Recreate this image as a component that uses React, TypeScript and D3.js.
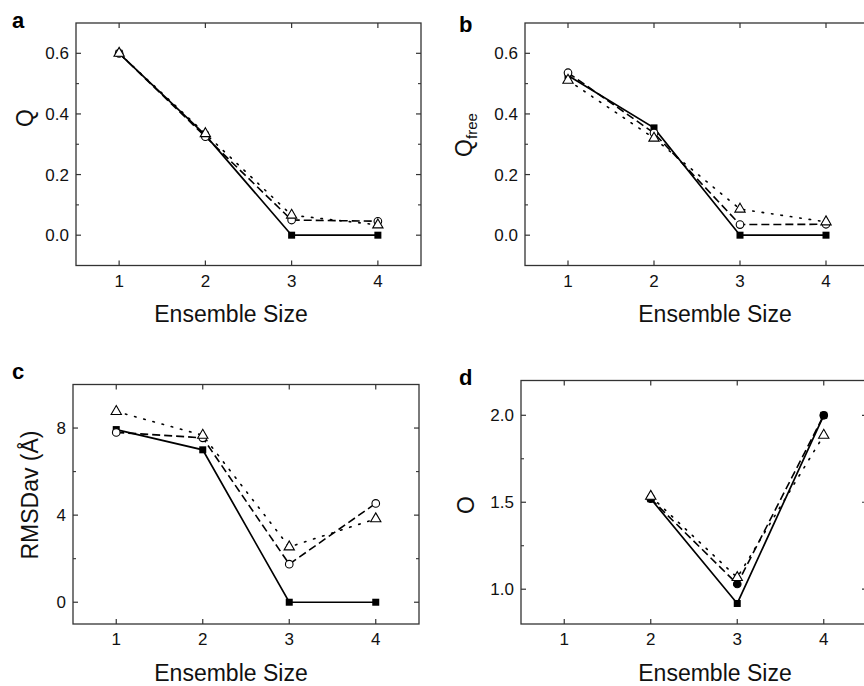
import React from 'react';
import * as d3 from 'd3';

const ensembleSizes = [1, 2, 3, 4];
const ensembleSizesD = [2, 3, 4];

// panel a: Q
const qSquares = [0.6, 0.33, 0.0, 0.0];
const qCircles = [0.6, 0.325, 0.05, 0.046];
const qTriangles = [0.6, 0.335, 0.066, 0.034];

// panel b: Q free
const qfreeSquares = [0.527, 0.354, 0.0, 0.0];
const qfreeCircles = [0.536, 0.337, 0.035, 0.036];
const qfreeTriangles = [0.511, 0.32, 0.086, 0.044];

// panel c: RMSDav
const rmsdSquares = [7.93, 7.0, 0.0, 0.0];
const rmsdCircles = [7.8, 7.55, 1.75, 4.54];
const rmsdTriangles = [8.76, 7.67, 2.54, 3.83];

// panel d: O
const oSquares = [1.52, 0.918, 2.0];
const oCircles = [1.52, 1.03, 2.0];
const oTriangles = [1.534, 1.067, 1.885];

const xTicks = [1, 2, 3, 4];
const qTicks = [0.0, 0.2, 0.4, 0.6];
const qMinor = [0.1, 0.3, 0.5];
const rmsdTicks = [0, 4, 8];
const rmsdMinor = [2, 6];
const oTicks = [1.0, 1.5, 2.0];
const oMinor = [1.25, 1.75];

const FONT = "'Liberation Sans', Arial, sans-serif";

type Series = { xs: number[]; ys: number[]; dash: string; marker: 'square' | 'circle' | 'triangle'; fill: string };

function Marker({ type, x, y, fill }: { type: string; x: number; y: number; fill: string }) {
  if (type === 'square') {
    return <rect x={x - 3.5} y={y - 3.5} width={7} height={7} fill="#000" />;
  }
  if (type === 'circle') {
    return <circle cx={x} cy={y} r={3.8} fill={fill} stroke="#000" strokeWidth={1.1} />;
  }
  const p = d3.symbol().type(d3.symbolTriangle).size(46)();
  return <path d={p || ''} transform={`translate(${x},${y})`} fill="#fff" stroke="#000" strokeWidth={1.1} />;
}

function Panel(props: {
  frame: [number, number, number, number];
  yDomain: [number, number];
  yTicks: number[];
  yMinor: number[];
  fmt: (v: number) => string;
  series: Series[];
  letter: string;
  letterPos: [number, number];
  yLabel: React.ReactNode;
  yLabelPos: [number, number];
  xLabelPos: [number, number];
}) {
  const [x0, x1, y0, y1] = props.frame;
  const x = d3.scaleLinear().domain([0.5, 4.5]).range([x0, x1]);
  const y = d3.scaleLinear().domain(props.yDomain).range([y1, y0]);
  const line = d3.line<[number, number]>().x((d) => x(d[0])).y((d) => y(d[1]));
  const ax = '#333';

  return (
    <g>
      <text x={props.letterPos[0]} y={props.letterPos[1]} fontFamily={FONT} fontWeight="bold" fontSize={22}>
        {props.letter}
      </text>
      <rect x={x0} y={y0} width={x1 - x0} height={y1 - y0} fill="none" stroke={ax} strokeWidth={1.3} />
      {xTicks.map((t) => (
        <g key={'x' + t}>
          <line x1={x(t)} x2={x(t)} y1={y1} y2={y1 - 5} stroke={ax} strokeWidth={1.2} />
          <line x1={x(t)} x2={x(t)} y1={y0} y2={y0 + 5} stroke={ax} strokeWidth={1.2} />
          <text x={x(t)} y={y1 + 21} textAnchor="middle" fontFamily={FONT} fontSize={17} fill="#111">
            {t}
          </text>
        </g>
      ))}
      {props.yTicks.map((t) => (
        <g key={'y' + t}>
          <line x1={x0} x2={x0 + 5} y1={y(t)} y2={y(t)} stroke={ax} strokeWidth={1.2} />
          <line x1={x1} x2={x1 - 5} y1={y(t)} y2={y(t)} stroke={ax} strokeWidth={1.2} />
          <text x={x0 - 7} y={y(t)} dy="0.36em" textAnchor="end" fontFamily={FONT} fontSize={17} fill="#111">
            {props.fmt(t)}
          </text>
        </g>
      ))}
      {props.yMinor.map((t) => (
        <g key={'m' + t}>
          <line x1={x0} x2={x0 + 3} y1={y(t)} y2={y(t)} stroke={ax} strokeWidth={1.1} />
          <line x1={x1} x2={x1 - 3} y1={y(t)} y2={y(t)} stroke={ax} strokeWidth={1.1} />
        </g>
      ))}
      {props.series.map((s, i) => (
        <path
          key={'l' + i}
          d={line(s.xs.map((v, j) => [v, s.ys[j]] as [number, number])) || ''}
          fill="none"
          stroke="#000"
          strokeWidth={s.dash === '' ? 1.7 : 1.6}
          strokeDasharray={s.dash || undefined}
          strokeLinecap={s.dash === '1.5,8' ? 'round' : 'butt'}
        />
      ))}
      {props.series.map((s, i) =>
        s.xs.map((v, j) => <Marker key={'p' + i + '-' + j} type={s.marker} x={x(v)} y={y(s.ys[j])} fill={s.fill} />)
      )}
      <text
        transform={`translate(${props.yLabelPos[0]},${props.yLabelPos[1]}) rotate(-90)`}
        textAnchor="middle"
        dy="0.36em"
        fontFamily={FONT}
        fontSize={23}
        fill="#111"
      >
        {props.yLabel}
      </text>
      <text x={props.xLabelPos[0]} y={props.xLabelPos[1]} textAnchor="middle" fontFamily={FONT} fontSize={23} fill="#111">
        Ensemble Size
      </text>
    </g>
  );
}

const f1 = d3.format('.1f');
const f0 = d3.format('d');

export default function App() {
  const mk = (xs: number[], sq: number[], ci: number[], tr: number[], circleFill: string): Series[] => [
    { xs, ys: sq, dash: '', marker: 'square', fill: '#000' },
    { xs, ys: ci, dash: '8,4', marker: 'circle', fill: circleFill },
    { xs, ys: tr, dash: '1.5,8', marker: 'triangle', fill: '#fff' },
  ];
  return (
    <svg width={864} height={686} style={{ position: 'absolute', left: 0, top: 0, background: '#fff' }}>
      <rect width={864} height={686} fill="#fff" />
      <Panel
        frame={[76, 421, 23, 265.5]}
        yDomain={[-0.1, 0.7]}
        yTicks={qTicks}
        yMinor={qMinor}
        fmt={f1}
        series={mk(ensembleSizes, qSquares, qCircles, qTriangles, '#fff')}
        letter="a"
        letterPos={[12, 28]}
        yLabel="Q"
        yLabelPos={[25, 118]}
        xLabelPos={[231, 322]}
      />
      <Panel
        frame={[525, 869, 23, 265.5]}
        yDomain={[-0.1, 0.7]}
        yTicks={qTicks}
        yMinor={qMinor}
        fmt={f1}
        series={mk(ensembleSizes, qfreeSquares, qfreeCircles, qfreeTriangles, '#fff')}
        letter="b"
        letterPos={[459, 32]}
        yLabel={
          <>
            <tspan>Q</tspan>
            <tspan fontSize={15} dy="5">free</tspan>
          </>
        }
        yLabelPos={[464, 135]}
        xLabelPos={[715, 322]}
      />
      <Panel
        frame={[73, 419, 384.5, 624]}
        yDomain={[-1, 10]}
        yTicks={rmsdTicks}
        yMinor={rmsdMinor}
        fmt={f0}
        series={mk(ensembleSizes, rmsdSquares, rmsdCircles, rmsdTriangles, '#fff')}
        letter="c"
        letterPos={[12, 379]}
        yLabel="RMSDav (Å)"
        yLabelPos={[30, 495]}
        xLabelPos={[231, 681]}
      />
      <Panel
        frame={[521, 867, 380.5, 624]}
        yDomain={[0.8, 2.2]}
        yTicks={oTicks}
        yMinor={oMinor}
        fmt={f1}
        series={mk(ensembleSizesD, oSquares, oCircles, oTriangles, '#000')}
        letter="d"
        letterPos={[459, 385]}
        yLabel="O"
        yLabelPos={[466, 505]}
        xLabelPos={[715, 681]}
      />
    </svg>
  );
}
